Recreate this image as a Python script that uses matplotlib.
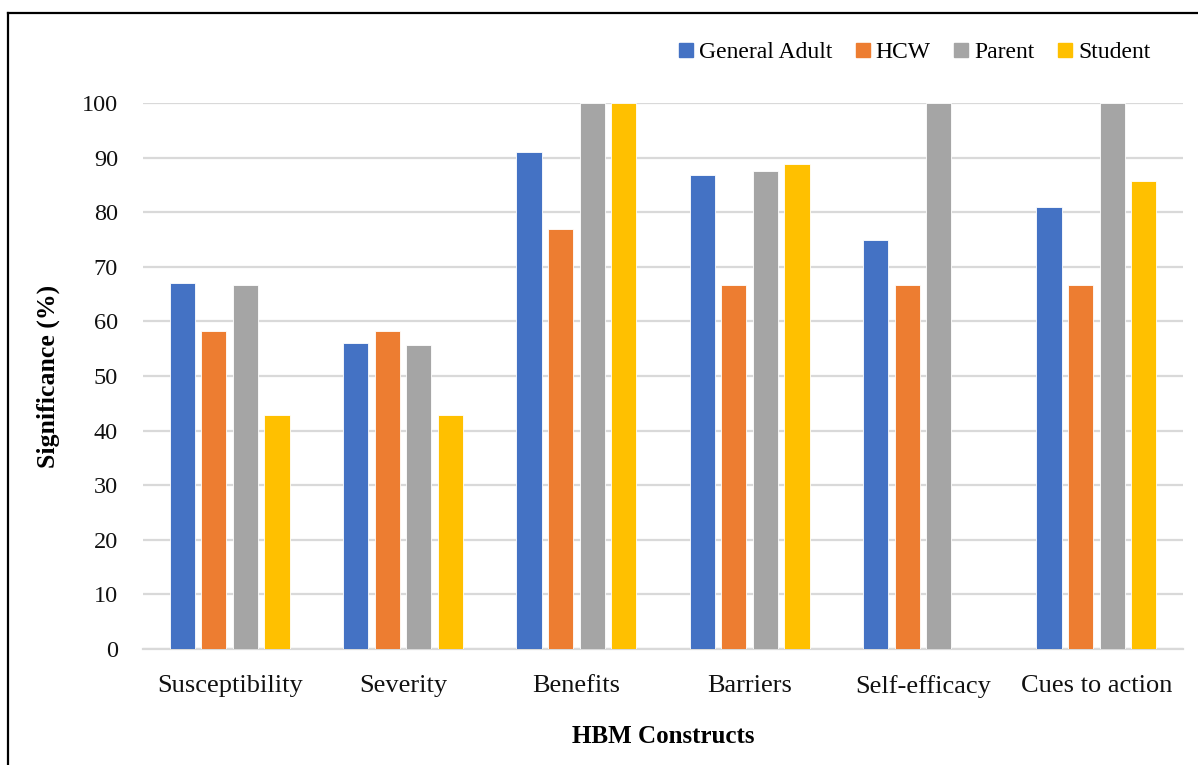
import numpy as np
import matplotlib.pyplot as plt
from matplotlib.lines import Line2D

constructs = ["Susceptibility", "Severity", "Benefits", "Barriers", "Self-efficacy", "Cues to action"]
groups = ["General Adult", "HCW", "Parent", "Student"]

general_adult = [67.1, 56.1, 91.1, 86.8, 75.0, 80.9]
hcw = [58.3, 58.3, 76.9, 66.7, 66.7, 66.7]
parent = [66.7, 55.6, 100, 87.5, 100, 100]
student = [42.9, 42.9, 100, 88.9, 0, 85.7]

series = [general_adult, hcw, parent, student]
colors = ["#4472C4", "#ED7D31", "#A5A5A5", "#FFC000"]
y_ticks = list(range(0, 101, 10))

plt.rcParams["font.family"] = ["Liberation Serif", "DejaVu Serif"]

fig = plt.figure(figsize=(11.98, 7.65), dpi=100)
ax = fig.add_axes([143 / 1198, 1 - 649 / 765, 1040 / 1198, 546 / 765])

x = np.arange(len(constructs))
pitch = 0.182
width = 0.145
for i, (vals, col, name) in enumerate(zip(series, colors, groups)):
    offs = (i - 1.5) * pitch
    ax.bar(x + offs, vals, width, color=col, edgecolor="white", linewidth=0.6, label=name, zorder=3)

ax.set_xlim(-0.5, len(constructs) - 0.5)
ax.set_ylim(0, 100)
ax.set_yticks(y_ticks)
ax.set_xticks(x)
ax.set_xticklabels(constructs)
ax.tick_params(axis="y", length=0, labelsize=17.5, colors="#111111", pad=18)
ax.tick_params(axis="x", length=0, labelsize=19, colors="#111111", pad=19)
ax.grid(axis="y", color="#D9D9D9", linewidth=1.6, zorder=0)
for s in ["top", "right", "left"]:
    ax.spines[s].set_visible(False)
ax.spines["bottom"].set_color("#D9D9D9")
ax.spines["bottom"].set_linewidth(1.6)

ax.set_ylabel("Significance (%)", fontsize=18.5, fontweight="bold")
ax.yaxis.set_label_coords(-0.080, 0.5)
ax.set_xlabel("HBM Constructs", fontsize=18, fontweight="bold", labelpad=19)

handles = [Line2D([], [], marker="s", linestyle="none", markersize=10,
                  markerfacecolor=c, markeredgecolor=c) for c in colors]
fig.legend(handles, groups, loc="center right", bbox_to_anchor=(1160 / 1198, 1 - 52 / 765),
           ncol=4, frameon=False, fontsize=17, handletextpad=0.15, columnspacing=0.9,
           handlelength=0.8, borderaxespad=0)

# outer frame (top and left edges)
fig.add_artist(Line2D([8 / 1198, 8 / 1198], [0, 1 - 13 / 765], color="black", linewidth=1.6))
fig.add_artist(Line2D([8 / 1198, 1], [1 - 13 / 765, 1 - 13 / 765], color="black", linewidth=1.6))

fig.savefig("out.png", dpi=100)
